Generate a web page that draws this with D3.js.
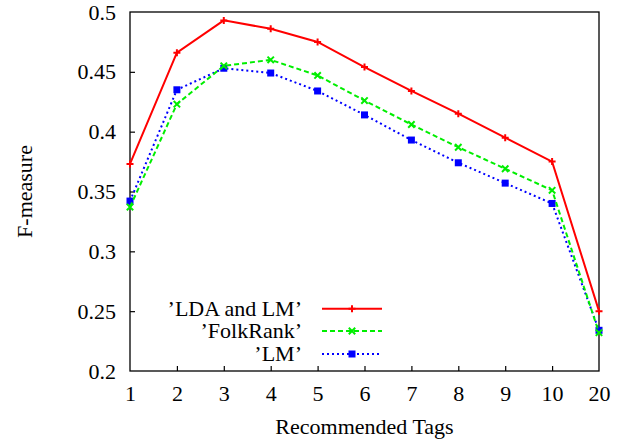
<!DOCTYPE html>
<html><head><meta charset="utf-8">
<script src="https://cdn.jsdelivr.net/npm/d3@7"></script>
<style>
html,body{margin:0;padding:0;background:#fff;}
svg{display:block;}
text{font-family:"Liberation Serif","Times New Roman",serif;fill:#000;}
</style></head>
<body>
<svg id="chart" width="623" height="445"></svg>
<script>
const categories = ["1","2","3","4","5","6","7","8","9","10","20"];
const ldaLM    = [0.373,0.466,0.493,0.486,0.475,0.454,0.434,0.415,0.395,0.375,0.250];
const folkRank = [0.337,0.423,0.455,0.460,0.447,0.426,0.406,0.387,0.369,0.351,0.232];
const lmOnly   = [0.342,0.435,0.453,0.449,0.434,0.414,0.393,0.374,0.357,0.340,0.234];
const yTicks = [0.2,0.25,0.3,0.35,0.4,0.45,0.5];
const seriesNames = ["\u2019LDA and LM\u2019","\u2019FolkRank\u2019","\u2019LM\u2019"];

const svg = d3.select("#chart");
const L = 130, R = 599, T = 12, B = 371;
const x = d3.scalePoint().domain(categories).range([L, R]).padding(0);
const y = d3.scaleLinear().domain([0.2, 0.5]).range([B, T]);
const FS = "22px";

const series = [
  {name: seriesNames[0], values: ldaLM, color: "#ff0000", dash: null, marker: "plus"},
  {name: seriesNames[1], values: folkRank, color: "#00ee00", dash: "5,3", marker: "cross"},
  {name: seriesNames[2], values: lmOnly, color: "#0000ff", dash: "2,3", marker: "square"}
];

// axes
const xAxis = d3.axisBottom(x).tickSize(-5).tickPadding(14).tickSizeOuter(0);
const gx = svg.append("g").attr("transform", `translate(0,${B})`).call(xAxis);
gx.select(".domain").remove();
gx.selectAll(".tick line").attr("stroke", "#000").attr("stroke-width", 1.2)
  .attr("display", (d,i) => (i === 0 || i === categories.length - 1) ? "none" : null);
gx.selectAll("text").attr("font-size", FS).attr("font-family", "Liberation Serif");

const yAxis = d3.axisLeft(y).tickValues(yTicks).tickFormat(d3.format("")).tickSize(-5).tickPadding(14).tickSizeOuter(0);
const gy = svg.append("g").attr("transform", `translate(${L},0)`).call(yAxis);
gy.select(".domain").remove();
gy.selectAll(".tick line").attr("stroke", "#000").attr("stroke-width", 1.2)
  .attr("display", (d,i) => (i === 0 || i === yTicks.length - 1) ? "none" : null);
gy.selectAll("text").attr("font-size", FS).attr("font-family", "Liberation Serif");

// frame
svg.append("rect").attr("x", L).attr("y", T).attr("width", R - L).attr("height", B - T)
  .attr("fill", "none").attr("stroke", "#000").attr("stroke-width", 1.3);

// labels
svg.append("text").attr("x", (L + R) / 2).attr("y", 434).attr("text-anchor", "middle")
  .attr("font-size", FS).text("Recommended Tags");
svg.append("text").attr("transform", `translate(32,${(T + B) / 2}) rotate(-90)`)
  .attr("text-anchor", "middle").attr("font-size", FS).text("F-measure");

function drawMarker(g, type, cx, cy, color) {
  if (type === "plus") {
    g.append("path").attr("d", `M${cx-3.5},${cy}H${cx+3.5}M${cx},${cy-3.5}V${cy+3.5}`)
      .attr("stroke", color).attr("stroke-width", 2).attr("fill", "none");
  } else if (type === "cross") {
    g.append("path").attr("d", `M${cx-3.2},${cy-3.2}L${cx+3.2},${cy+3.2}M${cx-3.2},${cy+3.2}L${cx+3.2},${cy-3.2}`)
      .attr("stroke", color).attr("stroke-width", 2).attr("fill", "none");
  } else {
    g.append("rect").attr("x", cx - 3.5).attr("y", cy - 3.5).attr("width", 7).attr("height", 7)
      .attr("fill", color);
  }
}

const line = d3.line().x((d, i) => x(categories[i])).y(d => y(d));

// draw series (blue first so red on top)
series.slice().reverse().forEach(s => {
  const g = svg.append("g");
  g.append("path").datum(s.values).attr("d", line).attr("fill", "none")
    .attr("stroke", s.color).attr("stroke-width", 2)
    .attr("stroke-dasharray", s.dash);
  s.values.forEach((v, i) => drawMarker(g, s.marker, x(categories[i]), y(v), s.color));
});

// legend
const legY = [308.7, 331, 354];
series.forEach((s, i) => {
  const g = svg.append("g");
  g.append("text").attr("x", 302).attr("y", legY[i]).attr("dy", "0.33em")
    .attr("text-anchor", "end").attr("font-size", FS).text(s.name);
  g.append("line").attr("x1", 322).attr("x2", 382).attr("y1", legY[i]).attr("y2", legY[i])
    .attr("stroke", s.color).attr("stroke-width", 2).attr("stroke-dasharray", s.dash);
  drawMarker(g, s.marker, 352, legY[i], s.color);
});
</script>
</body></html>
